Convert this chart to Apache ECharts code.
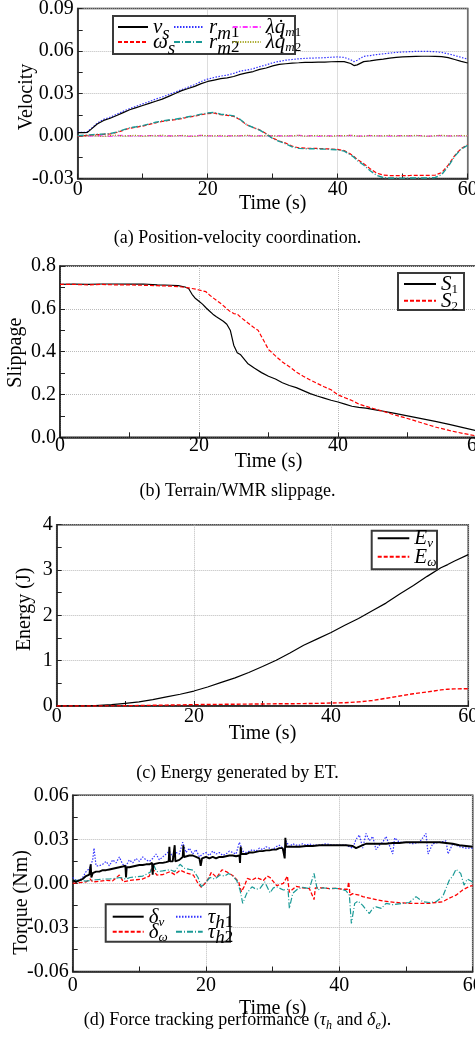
<!DOCTYPE html>
<html><head><meta charset="utf-8">
<script src="https://cdn.jsdelivr.net/npm/echarts@6/dist/echarts.min.js"></script>
<style>html,body{margin:0;padding:0;background:#fff}#c{width:475px;height:1045px}</style>
</head><body><div id="c"></div><script>
// ---------- data: panel (a) ----------
const tA = [0,1,1.5,2,3,4,5,6,7,8,9,10,11,12,13,14,15,16,17,18,19,20,21,22,23,24,25,26,27,28,29,30,31,32,33,34,35,36,37,38,39,40,41,42,42.5,43,44,45,46,47,48,49,50,51,52,53,54,55,56,57,58,59,60];
const vS = [0.0024,0.0024,0.0026,0.0045,0.0085,0.011,0.0125,0.0145,0.0165,0.0185,0.020,0.0215,0.023,0.0245,0.026,0.028,0.030,0.032,0.0335,0.035,0.037,0.0385,0.0395,0.0405,0.041,0.042,0.0435,0.0445,0.0455,0.047,0.048,0.0495,0.0505,0.051,0.0515,0.0517,0.052,0.052,0.0521,0.0522,0.0524,0.0526,0.0525,0.0512,0.0497,0.0502,0.0525,0.053,0.0537,0.0543,0.055,0.0555,0.0558,0.056,0.0562,0.0563,0.0563,0.0562,0.056,0.0553,0.054,0.0527,0.0515];
const rM1 = [0.0025,0.0025,0.003,0.005,0.009,0.0118,0.0133,0.0153,0.0175,0.0193,0.021,0.0227,0.0243,0.026,0.0275,0.0292,0.031,0.0328,0.0345,0.0363,0.0385,0.0402,0.0413,0.0423,0.043,0.0442,0.0458,0.0465,0.0475,0.049,0.0502,0.0517,0.0527,0.0535,0.054,0.0545,0.0548,0.055,0.0551,0.0553,0.0556,0.0558,0.0555,0.0538,0.0525,0.0535,0.0562,0.0568,0.0575,0.058,0.0585,0.059,0.0593,0.0595,0.0597,0.0598,0.0597,0.0595,0.059,0.058,0.0568,0.0555,0.0543];
const wS = [0,0.0003,0.0005,0.0007,0.001,0.0012,0.0015,0.0025,0.004,0.0055,0.0062,0.007,0.0082,0.0093,0.0103,0.011,0.0115,0.0123,0.0133,0.014,0.015,0.0158,0.0162,0.015,0.0146,0.0138,0.0114,0.0079,0.006,0.0043,0.0016,-0.0015,-0.0035,-0.005,-0.0072,-0.0083,-0.0086,-0.0087,-0.0088,-0.009,-0.0092,-0.0095,-0.0103,-0.0128,-0.0145,-0.0165,-0.0195,-0.0232,-0.0262,-0.0276,-0.0279,-0.0279,-0.0279,-0.0279,-0.0278,-0.0278,-0.0278,-0.0276,-0.0258,-0.0205,-0.0138,-0.0088,-0.0062];
const rM2 = [0.0003,0.0005,0.0006,0.0008,0.0012,0.0014,0.0017,0.0028,0.0043,0.0058,0.0065,0.0073,0.0085,0.0097,0.0106,0.0113,0.0118,0.0126,0.0136,0.0144,0.0154,0.0162,0.0166,0.0154,0.015,0.0142,0.0117,0.008,0.006,0.0042,0.0014,-0.0018,-0.0038,-0.0055,-0.0077,-0.0087,-0.009,-0.009,-0.0091,-0.0093,-0.0095,-0.0098,-0.0107,-0.0133,-0.015,-0.0172,-0.0205,-0.0245,-0.0278,-0.0293,-0.0296,-0.0297,-0.0297,-0.0297,-0.0296,-0.0296,-0.0296,-0.0293,-0.0272,-0.0215,-0.0143,-0.0092,-0.0065];
const tQ = [0,1,2,3,4,5,6,7,8,9,10,11,12,13,14,15,16,17,18,19,20,21,22,23,24,25,26,27,28,29,30,31,32,33,34,35,36,37,38,39,40,41,42,43,44,45,46,47,48,49,50,51,52,53,54,55,56,57,58,59,60];
const qM1 = [0,0.0002,-0.0001,0.0003,0.0001,-0.0002,0.0002,0.0004,0.0001,-0.0001,0.0003,0.0002,0.0005,-0.0001,0.0002,0.0001,0.0003,-0.0002,0.0002,0.0004,0.0001,0.0002,-0.0001,0.0003,0.0001,0.0002,0.0004,-0.0001,0.0002,0.0001,0.0003,0.0002,-0.0001,0.0002,0.0004,0.0001,0.0002,-0.0002,0.0003,0.0001,0.0002,0.0001,0.0004,-0.0001,0.0002,0.0003,0.0001,0.0002,-0.0001,0.0003,0.0002,0.0001,0.0004,0.0002,-0.0001,0.0002,0.0003,0.0001,0.0002,0.0001,0.0002];
const qM2 = [0,-0.0002,0.0004,0.0001,-0.0003,0.0003,0.0006,-0.0001,0.0002,0.0005,-0.0002,0.0003,0.0001,0.0006,-0.0002,0.0002,0.0004,0.0001,-0.0003,0.0005,0.0002,0.0001,0.0004,-0.0002,0.0003,0.0001,0.0005,0.0002,-0.0001,0.0004,0.0002,-0.0002,0.0003,0.0001,0.0005,-0.0001,0.0002,0.0004,0.0001,-0.0002,0.0003,0.0002,0.0005,0.0001,-0.0002,0.0004,0.0002,0.0001,0.0005,-0.0001,0.0003,0.0002,0.0004,0.0001,-0.0002,0.0003,0.0005,0.0001,0.0002,0.0004,0.0001];
// ---------- data: panel (b) ----------
const tB1 = [0,2,4,6,8,10,12,14,16,17,18,18.5,19,19.5,20,20.5,21,21.5,22,22.5,23,23.5,24,24.5,25,25.5,26,27,28,29,30,31,32,33,34,35,36,37,38,39,40,41,42,43,44,45,46,48,50,52,54,56,58,60];
const s1 = [0.714,0.716,0.714,0.716,0.716,0.715,0.716,0.712,0.71,0.708,0.702,0.695,0.668,0.648,0.635,0.622,0.605,0.59,0.575,0.563,0.553,0.542,0.528,0.5,0.43,0.395,0.385,0.345,0.322,0.302,0.285,0.272,0.255,0.242,0.232,0.218,0.204,0.193,0.183,0.173,0.165,0.155,0.145,0.14,0.136,0.13,0.125,0.113,0.1,0.087,0.074,0.06,0.045,0.03];
const tB2 = [0,2,4,6,8,10,12,14,16,17,18,18.5,19,19.5,20,20.5,21,21.5,22,22.5,23,23.5,24,24.5,25,25.5,26,26.5,27,27.5,28,28.5,29,29.5,30,31,32,33,34,35,36,37,38,39,40,41,42,43,44,45,46,48,50,52,53,54,56,58,60];
const s2 = [0.714,0.714,0.712,0.714,0.712,0.712,0.71,0.708,0.706,0.704,0.7,0.698,0.695,0.692,0.688,0.684,0.68,0.665,0.652,0.64,0.628,0.615,0.6,0.587,0.578,0.576,0.56,0.548,0.535,0.523,0.51,0.5,0.47,0.44,0.41,0.38,0.352,0.33,0.305,0.285,0.268,0.252,0.236,0.222,0.198,0.185,0.172,0.155,0.145,0.135,0.126,0.106,0.088,0.068,0.058,0.048,0.032,0.018,0.006];
// ---------- data: panel (c) ----------
const tC = [0,5,8,10,12,14,16,18,20,22,24,26,28,30,32,34,36,38,40,42,44,46,48,50,52,54,56,57,58,60];
const eV = [0,0.005,0.03,0.06,0.09,0.14,0.2,0.26,0.33,0.42,0.52,0.62,0.74,0.87,1.01,1.17,1.34,1.48,1.62,1.78,1.93,2.1,2.27,2.47,2.66,2.86,3.05,3.12,3.2,3.34];
const eW = [0,0,0.003,0.005,0.01,0.015,0.02,0.025,0.03,0.033,0.036,0.04,0.042,0.045,0.048,0.05,0.053,0.058,0.065,0.072,0.09,0.12,0.17,0.22,0.27,0.31,0.355,0.37,0.378,0.38];
// ---------- data: panel (d) [time, value] ----------
const deltaV = [[0,0.002],[0.5,0.001],[1,0.002],[1.5,0.003],[2,0.005],[2.5,0.006],[2.7,0.013],[2.8,0.004],[3,0.007],[3.5,0.008],[4,0.008],[4.5,0.009],[5,0.009],[5.5,0.0095],[6,0.01],[6.5,0.0105],[7,0.011],[7.5,0.0115],[7.9,0.012],[8,0.004],[8.1,0.011],[8.5,0.011],[9,0.0115],[9.5,0.012],[10,0.0125],[10.5,0.0125],[11,0.013],[11.5,0.013],[11.9,0.014],[12,0.006],[12.1,0.013],[12.5,0.0135],[13,0.014],[13.5,0.014],[14,0.0145],[14.4,0.015],[14.5,0.025],[14.6,0.015],[15,0.015],[15.3,0.026],[15.4,0.015],[15.5,0.0155],[16,0.016],[16.5,0.018],[16.6,0.026],[16.7,0.018],[17,0.0185],[17.5,0.019],[18,0.019],[18.5,0.018],[19,0.017],[19.2,0.012],[19.4,0.017],[19.5,0.018],[20,0.018],[20.5,0.017],[21,0.018],[21.5,0.017],[22,0.018],[22.5,0.018],[23,0.0185],[23.5,0.019],[24,0.019],[24.5,0.0185],[25,0.019],[25.1,0.014],[25.2,0.025],[25.3,0.02],[25.5,0.02],[26,0.02],[26.5,0.021],[27,0.021],[27.5,0.0215],[28,0.022],[28.5,0.022],[29,0.0225],[29.5,0.0225],[30,0.023],[30.5,0.023],[31,0.024],[31.5,0.024],[31.8,0.017],[31.9,0.031],[32,0.025],[32.5,0.025],[33,0.025],[34,0.025],[35,0.0255],[36,0.0255],[37,0.026],[38,0.026],[39,0.026],[40,0.026],[41,0.026],[42,0.0255],[42.5,0.024],[43,0.025],[43.5,0.026],[44,0.027],[45,0.027],[46,0.027],[47,0.027],[48,0.0275],[49,0.0275],[50,0.028],[51,0.028],[52,0.028],[53,0.028],[54,0.028],[55,0.028],[56,0.0275],[57,0.027],[58,0.026],[59,0.0255],[60,0.025]];
const deltaW = [[0,0],[1,0.0005],[2,0.001],[2.6,0.003],[3,0.001],[4,0.0015],[5,0.002],[6,0.0018],[7,0.0057],[7.6,0.001],[8.5,0.002],[9.5,0.0025],[10.5,0.003],[11.5,0.005],[11.9,0.011],[12.6,0.0057],[13.5,0.006],[14.6,0.008],[15.3,0.006],[16.1,0.009],[17.1,0.007],[18.1,0.0057],[18.8,0],[19.3,-0.0027],[20.1,0.0012],[20.8,0.0075],[21.6,0.004],[22.4,0.0093],[23.1,0.0079],[24.1,0.005],[24.9,0.001],[25.3,-0.0057],[25.7,-0.0023],[26.2,0.0034],[26.9,0.0023],[27.6,0.004],[28.6,0.002],[29.2,0.005],[29.6,0.004],[30.6,-0.0015],[31.6,0],[32.2,0.005],[32.5,-0.006],[33.5,-0.002],[34.5,-0.003],[35.5,-0.0035],[36.2,-0.011],[36.4,-0.003],[37.5,-0.003],[38.5,-0.0035],[39.5,-0.0034],[40.5,-0.004],[41.2,-0.004],[41.4,0.001],[41.6,-0.008],[42,-0.007],[43,-0.008],[43.5,-0.009],[44.5,-0.01],[45.5,-0.011],[46.5,-0.012],[47.5,-0.0125],[48.5,-0.013],[49.5,-0.0133],[50.5,-0.0136],[52,-0.0136],[53.5,-0.0136],[54.5,-0.013],[55.5,-0.0125],[56.5,-0.01],[57.5,-0.008],[58.5,-0.0045],[59.5,-0.002],[60,-0.0015]];
const tauH1 = [[0,0.004],[0.5,0.002],[1,0.002],[1.5,0.004],[2,0.008],[2.5,0.01],[3,0.016],[3.2,0.024],[3.5,0.012],[4,0.012],[4.5,0.013],[5,0.015],[5.5,0.012],[6,0.016],[6.5,0.014],[7,0.018],[7.5,0.013],[8,0.012],[8.5,0.016],[9,0.014],[9.5,0.017],[10,0.015],[10.5,0.018],[11,0.016],[11.5,0.015],[12,0.017],[12.5,0.02],[13,0.016],[13.5,0.018],[14,0.02],[14.5,0.022],[15,0.018],[15.5,0.021],[16,0.02],[16.5,0.028],[17,0.021],[17.5,0.024],[18,0.02],[18.5,0.023],[19,0.018],[19.5,0.02],[20,0.021],[20.5,0.019],[21,0.022],[21.5,0.02],[22,0.021],[22.5,0.019],[23,0.02],[23.5,0.022],[24,0.021],[24.5,0.02],[25,0.028],[25.5,0.022],[26,0.021],[26.5,0.022],[27,0.023],[27.5,0.022],[28,0.024],[28.5,0.023],[29,0.025],[29.5,0.024],[30,0.023],[30.5,0.025],[31,0.026],[31.5,0.024],[31.8,0.019],[32,0.029],[32.5,0.025],[33,0.027],[33.5,0.026],[34,0.026],[34.5,0.027],[35,0.026],[35.5,0.027],[36,0.026],[37,0.026],[38,0.027],[39,0.026],[40,0.026],[41,0.026],[41.5,0.025],[42,0.024],[42.5,0.03],[43,0.033],[43.5,0.024],[44,0.034],[44.5,0.029],[45,0.032],[45.5,0.023],[46,0.026],[46.5,0.028],[47,0.032],[47.5,0.026],[48,0.02],[48.3,0.031],[49,0.028],[50,0.028],[51,0.027],[52,0.028],[53,0.034],[53.3,0.02],[54,0.027],[55,0.028],[56,0.029],[56.3,0.02],[57,0.027],[58,0.025],[59,0.024],[60,0.024]];
const tauH2 = [[0,0.002],[1,0.002],[2,0.0015],[2.6,0.002],[3.5,0.0025],[4.6,0.003],[5.5,0.003],[6.5,0.0035],[7.1,0.004],[8,0.003],[8.6,0.004],[9.6,0.0045],[10.5,0.005],[11.6,0.0075],[12.1,0.013],[12.6,0.008],[13.5,0.0085],[14.6,0.0093],[15.3,0.008],[16.1,0.013],[16.8,0.0102],[17.5,0.0095],[18.1,0.009],[18.8,0.004],[19.3,-0.0023],[20,0.001],[20.6,0.004],[21.3,0.003],[22.1,0.0057],[22.8,0.005],[23.4,0.0068],[24,0.005],[24.6,0.002],[25.1,-0.0045],[25.5,-0.0136],[26.1,-0.0068],[26.9,-0.0023],[27.5,-0.004],[28.1,-0.0034],[28.8,0.001],[29.6,-0.0064],[30.1,-0.003],[30.6,-0.0023],[31.6,-0.0045],[32.3,-0.004],[32.5,-0.017],[33,-0.0068],[33.7,-0.004],[34.5,-0.0027],[35.5,-0.0035],[36.2,0.0068],[36.7,-0.0045],[37.5,-0.003],[38.5,-0.0035],[39.5,-0.0034],[40.3,-0.004],[41,-0.005],[41.5,-0.008],[41.8,-0.0273],[42.3,-0.0136],[42.8,-0.012],[43.5,-0.015],[44,-0.018],[44.5,-0.0205],[45,-0.017],[45.5,-0.016],[46.3,-0.017],[47,-0.0136],[48,-0.0145],[49.5,-0.0136],[50.5,-0.013],[51.5,-0.009],[52.5,-0.0125],[53.5,-0.013],[54.5,-0.0125],[55.5,-0.009],[56.5,0.0023],[57,0.005],[57.5,0.0096],[58.2,0.0068],[58.7,-0.0012],[59.2,0.003],[59.5,0.0023],[60,0.001]];
// tick labels / captions
const xTicks = [0, 20, 40, 60];
const captions = ['(a) Position-velocity coordination.', '(b) Terrain/WMR slippage.', '(c) Energy generated by ET.', '(d) Force tracking performance ({i|τ}{s|h} and {i|δ}{s|e}).'];

// ---------- chart ----------
const FONT = 'Liberation Serif';
const zip = (t, v) => t.map((x, i) => [x, v[i]]);
const chart = echarts.init(document.getElementById('c'), null, {renderer: 'canvas'});

const grids = [
  {left: 77.7, top: 8.5, width: 390, height: 170},
  {left: 60, top: 266, width: 417, height: 171.3},
  {left: 56.7, top: 524.7, width: 411.6, height: 181.3},
  {left: 72.7, top: 795.3, width: 400, height: 176.2}
].map(g => Object.assign({show: true, borderColor: '#222', borderWidth: 1.5, backgroundColor: 'transparent', containLabel: false, outerBoundsMode: 'none'}, g));

const axText = {fontFamily: FONT, fontSize: 20, color: '#000'};
function xAx(i, nameGap, margin) {
  return {type: 'value', gridIndex: i, min: xTicks[0], max: xTicks[xTicks.length - 1], interval: 20,
    name: 'Time (s)', nameLocation: 'middle', nameGap, nameMoveOverlap: false, nameTextStyle: axText,
    axisLine: {show: true, onZero: false, lineStyle: {color: '#222', width: 1.5}},
    axisTick: {show: true, inside: true, length: 5, lineStyle: {color: '#222'}},
    minorTick: {show: true, splitNumber: 2, length: 5, lineStyle: {color: '#222'}},
    axisLabel: Object.assign({margin, showMaxLabel: true, showMinLabel: true, hideOverlap: false}, axText),
    splitLine: {show: true, lineStyle: {color: '#bbb', type: 'dotted'}}};
}
function yAx(i, min, max, interval, dec, name, nameGap, pad) {
  return {type: 'value', gridIndex: i, min, max, interval,
    name, nameLocation: 'middle', nameGap, nameMoveOverlap: false, nameTextStyle: Object.assign({padding: pad}, axText),
    axisLine: {show: true, onZero: false, lineStyle: {color: '#222', width: 1.5}},
    axisTick: {show: true, inside: true, length: 5, lineStyle: {color: '#222'}},
    minorTick: {show: true, splitNumber: 2, length: 5, lineStyle: {color: '#222'}},
    axisLabel: Object.assign({margin: 4, formatter: v => (Math.abs(v) < 1e-9 ? 0 : v).toFixed(dec)}, axText),
    splitLine: {show: true, lineStyle: {color: '#bbb', type: 'dotted'}}};
}
function ln(name, data, gi, color, type, width) {
  return {name, type: 'line', xAxisIndex: gi, yAxisIndex: gi, data, showSymbol: false, symbol: 'none',
    lineStyle: {color, type, width: width || 1.1}, itemStyle: {color}, emphasis: {disabled: true}, animation: false};
}

const RICH = {
  i: {fontFamily: FONT, fontStyle: 'italic', fontSize: 21, lineHeight: 20, verticalAlign: 'top', color: '#000'},
  si: {fontFamily: FONT, fontStyle: 'italic', fontSize: 19, lineHeight: 14, padding: [7, 0, 0, 0], verticalAlign: 'top', color: '#000'},
  sn: {fontFamily: FONT, fontSize: 17, lineHeight: 14, padding: [7, 0, 0, 0], verticalAlign: 'top', color: '#000'},
  ti: {fontFamily: FONT, fontStyle: 'italic', fontSize: 13, lineHeight: 12, padding: [9, 0, 0, 0], verticalAlign: 'top', color: '#000'},
  tn: {fontFamily: FONT, fontSize: 13, lineHeight: 12, padding: [9, 0, 0, 0], verticalAlign: 'top', color: '#000'}
};
const LBL = {
  'v_s': '{i|v}{si|s}', 'ω_s': '{i|ω}{si|s}', 'r_m1': '{i|r}{si|m}{sn|1}', 'r_m2': '{i|r}{si|m}{sn|2}',
  'λq_m1': '{i|λq̇}{ti|m}{tn|1}', 'λq_m2': '{i|λq̇}{ti|m}{tn|2}',
  'S_1': '{i|S}{tn|1}', 'S_2': '{i|S}{tn|2}', 'E_v': '{i|E}{ti|v}', 'E_ω': '{i|E}{ti|ω}',
  'δ_v': '{i|δ}{ti|v}', 'δ_ω': '{i|δ}{ti|ω}', 'τ_h1': '{i|τ}{si|h}{sn|1}', 'τ_h2': '{i|τ}{si|h}{sn|2}'
};
function lg(name, left, cy, w) {
  return {data: [name], left, top: cy - 11, orient: 'horizontal', padding: 0, itemWidth: w, itemHeight: 14, itemGap: 0,
    selectedMode: false, formatter: n => LBL[n], textStyle: {color: '#000', rich: RICH}, z: 10,
    itemStyle: {color: 'rgba(0,0,0,0)', borderColor: 'rgba(0,0,0,0)', borderWidth: 0, opacity: 0}};
}
function box(x, y, w, h) {
  return {type: 'rect', shape: {x, y, width: w, height: h}, style: {fill: '#fff', stroke: '#3a3a3a', lineWidth: 2}, z: 5};
}
const capStyle = {fontFamily: FONT, fontSize: 18, fontWeight: 'normal', color: '#000', lineHeight: 18,
  rich: {i: {fontFamily: FONT, fontStyle: 'italic', fontSize: 18, lineHeight: 18, verticalAlign: 'top', color: '#000'},
         s: {fontFamily: FONT, fontStyle: 'italic', fontSize: 12, lineHeight: 10, padding: [9, 0, 0, 0], verticalAlign: 'top', color: '#000'}}};
const capTops = [229, 482, 764, 1011];

const option = {
  animation: false,
  backgroundColor: '#fff',
  grid: grids,
  title: captions.map((t, k) => ({text: t, left: 'center', top: capTops[k], padding: 0, textStyle: capStyle})),
  xAxis: [xAx(0, 15, 1), xAx(1, 14, -2), xAx(2, 18, 1), xAx(3, 27, 4)],
  yAxis: [
    yAx(0, -0.03, 0.09, 0.03, 2, 'Velocity', 41, [0, 7, 0, 0]),
    yAx(1, 0, 0.8, 0.2, 1, 'Slippage', 34, [0, 2, 0, 0]),
    yAx(2, 0, 4, 1, 0, 'Energy (J)', 22, [0, 0, 0, 12]),
    yAx(3, -0.06, 0.06, 0.03, 2, 'Torque (Nm)', 41, [0, 38, 0, 0])
  ],
  legend: [
    lg('v_s', 117, 28, 30), lg('ω_s', 117, 43, 30),
    lg('r_m1', 173, 28, 30), lg('r_m2', 173, 43, 30),
    lg('λq_m1', 231.7, 28, 28), lg('λq_m2', 231.7, 43, 28),
    lg('S_1', 403, 285, 32), lg('S_2', 403, 301.7, 32),
    lg('E_v', 376.7, 539.3, 31.6), lg('E_ω', 376.7, 557.7, 31.6),
    lg('δ_v', 111.7, 917.7, 31), lg('δ_ω', 111.7, 932.7, 31),
    lg('τ_h1', 175, 917.7, 26.7), lg('τ_h2', 175, 932.7, 26.7)
  ],
  graphic: [box(113, 16, 182, 38), box(398, 273, 66, 37), box(371.7, 530.7, 65.3, 38.6), box(105.7, 904.3, 124.3, 37.4)],
  series: [
    ln('λq_m1', zip(tQ, qM1), 0, '#ff33ff', [5, 2, 1, 2], 1.2),
    ln('λq_m2', zip(tQ, qM2), 0, '#999900', [1, 1.5], 1.2),
    ln('ω_s', zip(tA, wS), 0, '#ff0000', [4, 2], 1.2),
    ln('r_m2', zip(tA, rM2), 0, '#1a9a96', [6, 2, 1, 2], 1.4),
    ln('r_m1', zip(tA, rM1), 0, '#3333ff', [1.5, 1.5], 1.2),
    ln('v_s', zip(tA, vS), 0, '#000000', 'solid', 1.2),
    ln('S_1', zip(tB1, s1), 1, '#000000', 'solid', 1.2),
    ln('S_2', zip(tB2, s2), 1, '#ff0000', [4, 2], 1.2),
    ln('E_v', zip(tC, eV), 2, '#000000', 'solid', 1.2),
    ln('E_ω', zip(tC, eW), 2, '#ff0000', [4, 2], 1.4),
    ln('τ_h1', tauH1, 3, '#3333ff', [1.5, 1.5], 1.2),
    ln('δ_ω', deltaW, 3, '#ff0000', [4, 2], 1.3),
    ln('τ_h2', tauH2, 3, '#1a9a96', [6, 2, 1, 2], 1.2),
    ln('δ_v', deltaV, 3, '#000000', 'solid', 1.9)
  ]
};
chart.setOption(option);
</script></body></html>
